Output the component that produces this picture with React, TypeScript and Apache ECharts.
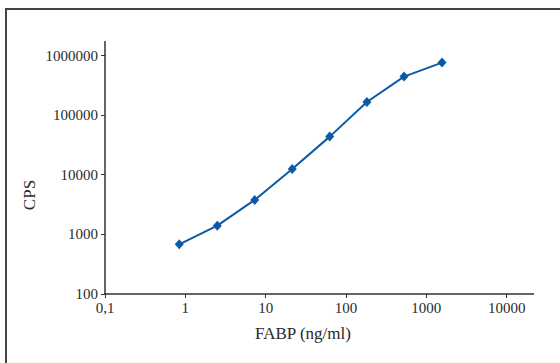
import React, { useEffect, useRef } from "react";
import * as echarts from "echarts";

const fabpConcentrations = [0.84, 2.5, 7.3, 21.4, 62.7, 182, 527, 1566];
const cpsValues = [682, 1400, 3780, 12500, 43600, 166000, 443000, 760000];
const xAxisTitle = "FABP (ng/ml)";
const yAxisTitle = "CPS";

const fmtX = (v: number) => {
  const e = Math.round(Math.log10(v));
  return e < 0 ? "0,1" : String(Math.pow(10, e));
};
const fmtY = (v: number) => String(Math.pow(10, Math.round(Math.log10(v))));

export default function App() {
  const ref = useRef<HTMLDivElement>(null);
  useEffect(() => {
    if (!ref.current) return;
    const chart = echarts.init(ref.current, null, { renderer: "svg" });
    const axisColor = "#333";
    const font = "Liberation Serif";
    chart.setOption({
      animation: false,
      backgroundColor: "#fff",
      grid: { left: 105, right: 53.3, top: 55.5, bottom: 69, outerBoundsMode: "none" },
      xAxis: {
        type: "log",
        logBase: 10,
        min: 0.1,
        max: 10000,
        axisLine: { show: true, lineStyle: { color: axisColor, width: 1.5 } },
        axisTick: { show: true, length: 4, lineStyle: { color: axisColor, width: 1 } },
        axisLabel: { formatter: fmtX, color: "#2a2a2a", fontFamily: font, fontSize: 15, margin: 6 },
        splitLine: { show: false },
        minorTick: { show: false },
      },
      yAxis: {
        type: "log",
        logBase: 10,
        min: 100,
        max: 1000000,
        axisLine: { show: true, lineStyle: { color: axisColor, width: 1.5 } },
        axisTick: { show: true, length: 4, lineStyle: { color: axisColor, width: 1 } },
        axisLabel: { formatter: fmtY, color: "#2a2a2a", fontFamily: font, fontSize: 15, margin: 7 },
        splitLine: { show: false },
      },
      series: [
        {
          type: "line",
          data: fabpConcentrations.map((x, i) => [x, cpsValues[i]]),
          symbol: "diamond",
          symbolSize: [9, 10],
          itemStyle: { color: "#0b5aa6" },
          lineStyle: { color: "#0b5aa6", width: 2 },
        },
      ],
      graphic: [
        {
          type: "rect",
          shape: { x: 6, y: 9, width: 620, height: 420 },
          style: { fill: "none", stroke: "#444", lineWidth: 2 },
          silent: true,
        },
        {
          type: "line",
          shape: { x1: 506.7, y1: 294, x2: 534, y2: 294 },
          style: { stroke: axisColor, lineWidth: 1.5 },
        },
        {
          type: "line",
          shape: { x1: 105, y1: 55.5, x2: 105, y2: 41 },
          style: { stroke: axisColor, lineWidth: 1.5 },
        },
        {
          type: "text",
          x: 303,
          y: 333,
          style: {
            text: xAxisTitle,
            fill: "#2a2a2a",
            fontFamily: font,
            fontSize: 17,
            textAlign: "center",
            textVerticalAlign: "middle",
          },
        },
        {
          type: "text",
          x: 29,
          y: 195,
          rotation: Math.PI / 2,
          style: {
            text: yAxisTitle,
            fill: "#2a2a2a",
            fontFamily: font,
            fontSize: 17,
            textAlign: "center",
            textVerticalAlign: "middle",
          },
        },
      ],
    });
    return () => chart.dispose();
  }, []);
  return (
    <div
      ref={ref}
      style={{ position: "absolute", left: 0, top: 0, width: 560, height: 363 }}
    />
  );
}
